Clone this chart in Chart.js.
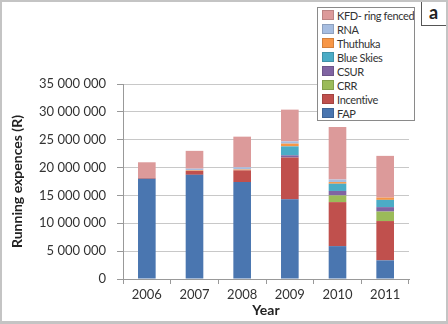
<!DOCTYPE html>
<html>
<head>
<meta charset="utf-8">
<script src="https://cdn.jsdelivr.net/npm/chart.js@4.4.0/dist/chart.umd.min.js"></script>
<style>
  body { margin: 0; background: #fff; }
  #wrap { position: relative; width: 448px; height: 324px; font-family: Lato, "Liberation Sans", sans-serif; }
  #frame { position: absolute; left: 0; top: 0; width: 448px; height: 324px; box-sizing: border-box;
    border: 2px solid #c4c4c4; border-bottom-width: 3px; pointer-events: none; }
  #tag { position: absolute; left: 421px; top: 0; width: 30px; height: 26px; box-sizing: border-box;
    border: 1px solid #555; background: #fff; font: bold 18px Lato, sans-serif; color: #222;
    padding-left: 7px; line-height: 22px; }
  #legend { position: absolute; left: 317px; top: 7px; width: 98px; height: 114px; box-sizing: border-box;
    border: 1px solid #8a8a8a; background: #fff; padding: 0 0 0 4px; overflow: hidden; }
  .item { height: 14px; display: flex; align-items: center; font-size: 11px; letter-spacing: -0.35px; color: #333; white-space: nowrap; }
  .sw { flex: 0 0 12px; width: 12px; height: 10px; margin-right: 3px; box-sizing: border-box; border: 1px solid rgba(0,0,0,0.15); }
</style>
</head>
<body>
<div id="wrap">
  <canvas id="chart" width="448" height="324"></canvas>
  <div id="legend"></div>
  <div id="tag">a</div>
  <div id="frame"></div>
</div>
<script>
// values in millions of Rand
const years = ['2006', '2007', '2008', '2009', '2010', '2011'];
const fap        = [18.0, 18.7, 17.4, 14.3, 5.9, 3.35];
const incentive  = [0.15, 0.7, 2.1, 7.5, 7.9, 7.05];
const crr        = [0, 0, 0, 0, 1.2, 1.7];
const csur       = [0, 0, 0, 0.4, 0.8, 0.8];
const blueSkies  = [0, 0, 0, 1.6, 1.3, 1.3];
const thuthuka   = [0, 0.1, 0.15, 0.5, 0.3, 0.4];
const rna        = [0, 0.3, 0.4, 0.4, 0.45, 0];
const kfd        = [2.8, 3.2, 5.5, 5.7, 9.45, 7.5];

const seriesNames  = ['FAP', 'Incentive', 'CRR', 'CSUR', 'Blue Skies', 'Thuthuka', 'RNA', 'KFD- ring fenced'];
const seriesData   = [fap, incentive, crr, csur, blueSkies, thuthuka, rna, kfd];
const seriesColors = ['#4a76b0', '#c0504d', '#9bbb59', '#8064a2', '#4bacc6', '#f79646', '#a6bde0', '#dc9a9a'];

const yTicks = [0, 5, 10, 15, 20, 25, 30, 35];

var datasets = [];
for (let i = 0; i < seriesNames.length; i++) {
  datasets.push({
    label: seriesNames[i],
    data: seriesData[i].map(v => v * 1000000),
    backgroundColor: seriesColors[i],
    borderWidth: 0,
    barPercentage: 0.37,
    categoryPercentage: 1
  });
}

// legend is drawn in html, top to bottom in reverse order like the picture
var legend = document.getElementById('legend');
for (let i = seriesNames.length - 1; i >= 0; i--) {
  var row = document.createElement('div');
  row.className = 'item';
  row.innerHTML = '<span class="sw" style="background:' + seriesColors[i] + '"></span>' + seriesNames[i];
  legend.appendChild(row);
}

function fmt(v) {
  return String(v).replace(/\B(?=(\d{3})+(?!\d))/g, ' ');
}

Chart.defaults.font.family = 'Lato, "Liberation Sans", sans-serif';
Chart.defaults.color = '#333';

new Chart(document.getElementById('chart'), {
  type: 'bar',
  data: { labels: years, datasets: datasets },
  options: {
    responsive: false,
    animation: false,
    layout: { padding: { left: 0, top: 84, right: 39, bottom: 0 } },
    plugins: { legend: { display: false }, tooltip: { enabled: false } },
    scales: {
      x: {
        stacked: true,
        grid: { display: true, drawOnChartArea: false, offset: true, tickLength: 5, tickColor: '#999' },
        border: { color: '#999' },
        ticks: { font: { size: 13 }, padding: 3 },
        title: { display: true, text: 'Year', font: { size: 14, weight: 'bold' }, color: '#222', padding: { top: 0, bottom: 5 } },
        afterFit: (s) => { s.height = 45; }
      },
      y: {
        stacked: true,
        min: 0,
        max: 35000000,
        afterBuildTicks: (s) => { s.ticks = yTicks.map(v => ({ value: v * 1000000 })); },
        grid: { color: '#c8c8c8', tickLength: 6, tickColor: '#999' },
        border: { color: '#999' },
        ticks: { font: { size: 13 }, padding: 11, callback: (v) => fmt(v) },
        title: { display: true, text: 'Running expences (R)', font: { size: 14, weight: 'bold' }, color: '#222', padding: { top: 9, bottom: 0 } },
        afterFit: (s) => { s.width = 123; }
      }
    }
  }
});
</script>
</body>
</html>
